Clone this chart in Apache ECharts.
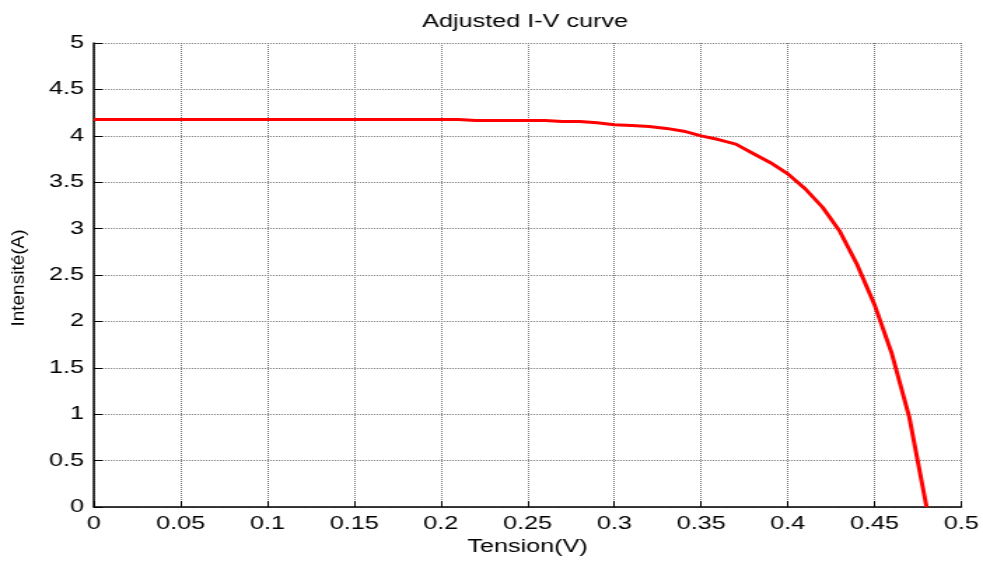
<!DOCTYPE html>
<html>
<head>
<meta charset="utf-8">
<title>Adjusted I-V curve</title>
<script src="https://cdn.jsdelivr.net/npm/echarts@6/dist/echarts.min.js"></script>
<style>
  html, body { margin: 0; padding: 0; background: #fff; overflow: hidden; }
  /* The figure is laid out on a narrower canvas and widened horizontally,
     giving the wide glyphs of the exported figure. */
  #chart { width: 702px; height: 561px; transform-origin: 0 0; transform: scaleX(1.40028); }
</style>
</head>
<body>
<div id="chart"></div>
<script>
// Tension (V) and measured intensity (A) of the adjusted I-V curve
const tension = [
  0.00, 0.01, 0.02, 0.03, 0.04, 0.05, 0.06, 0.07, 0.08, 0.09,
  0.10, 0.11, 0.12, 0.13, 0.14, 0.15, 0.16, 0.17, 0.18, 0.19,
  0.20, 0.21, 0.22, 0.23, 0.24, 0.25, 0.26, 0.27, 0.28, 0.29,
  0.30, 0.31, 0.32, 0.33, 0.34, 0.35, 0.36, 0.37, 0.38, 0.39,
  0.40, 0.41, 0.42, 0.43, 0.44, 0.45, 0.46, 0.47, 0.48
];
const intensite = [
  4.175, 4.175, 4.175, 4.175, 4.175, 4.175, 4.175, 4.175, 4.175, 4.175,
  4.175, 4.175, 4.175, 4.175, 4.175, 4.175, 4.175, 4.175, 4.175, 4.175,
  4.175, 4.175, 4.165, 4.165, 4.165, 4.165, 4.165, 4.155, 4.155, 4.14,
  4.12, 4.11, 4.10, 4.08, 4.05, 4.00, 3.96, 3.91, 3.81, 3.71,
  3.59, 3.43, 3.23, 2.97, 2.61, 2.18, 1.65, 0.97, 0.00
];

const titleText = 'Adjusted I-V curve';
const xName = 'Tension(V)';
const yName = 'Intensité(A)';
const xRange = [0, 0.5, 0.05];
const yRange = [0, 5, 0.5];

const S = 1.40028;           // horizontal widening of the canvas
const font = '"Liberation Sans", Arial, Helvetica, sans-serif';
const px = v => v / S;       // page x -> canvas x

const chart = echarts.init(document.getElementById('chart'), null, { renderer: 'canvas' });

const gridLine = { show: true, lineStyle: { color: '#757575', width: 1, type: [1, 1] } };

chart.setOption({
  backgroundColor: '#ffffff',
  animation: false,
  title: {
    text: titleText,
    left: px(525) - 5,       // title padding is added on top of this
    top: 8,
    textAlign: 'center',
    textStyle: { fontFamily: font, fontSize: 18, fontWeight: 'normal', color: '#000' }
  },
  grid: {
    left: px(94),
    right: 702 - px(961.7),
    top: 43,
    bottom: 51,
    containLabel: false
  },
  xAxis: {
    type: 'value',
    min: xRange[0],
    max: xRange[1],
    interval: xRange[2],
    name: xName,
    nameLocation: 'middle',
    nameGap: 30,
    nameTextStyle: { fontFamily: font, fontSize: 18, color: '#000' },
    axisLine: { show: true, onZero: false, lineStyle: { color: '#000', width: 1.5 } },
    axisTick: { show: true, inside: true, length: 6, lineStyle: { color: '#000', width: 1 } },
    axisLabel: { fontFamily: font, fontSize: 18, color: '#000', margin: 8, showMinLabel: true, showMaxLabel: true },
    splitLine: gridLine
  },
  yAxis: {
    type: 'value',
    min: yRange[0],
    max: yRange[1],
    interval: yRange[2],
    axisLine: { show: true, onZero: false, lineStyle: { color: '#000', width: 1.5 } },
    axisTick: { show: true, inside: true, length: 6, lineStyle: { color: '#000', width: 1 } },
    axisLabel: { fontFamily: font, fontSize: 18, color: '#000', margin: 7 },
    splitLine: gridLine
  },
  graphic: [{
    type: 'text',
    x: px(19),
    y: 278,
    rotation: Math.PI / 2,
    scaleY: 1 / S,
    style: {
      text: yName,
      font: '19px ' + font,
      fill: '#000',
      textAlign: 'center',
      textVerticalAlign: 'middle'
    }
  }],
  series: [{
    type: 'line',
    data: tension.map((v, i) => [v, intensite[i]]),
    showSymbol: false,
    symbol: 'none',
    lineStyle: { color: '#ff0000', width: 3 },
    itemStyle: { color: '#ff0000' }
  }]
});
</script>
</body>
</html>
